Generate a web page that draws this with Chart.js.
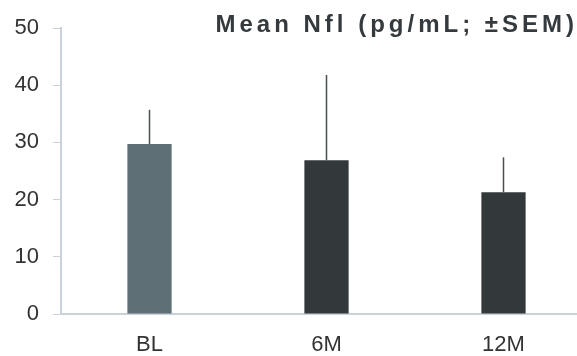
<!DOCTYPE html>
<html>
<head>
<meta charset="utf-8">
<script src="https://cdn.jsdelivr.net/npm/chart.js@4.4.1/dist/chart.umd.min.js"></script>
<style>
  html, body { margin: 0; padding: 0; background: #fff; overflow: hidden; }
  #wrap { width: 595px; height: 356px; position: relative; }
</style>
</head>
<body>
<div id="wrap"><canvas id="c" width="595" height="356"></canvas></div>
<script>
const categories = ['BL', '6M', '12M'];
const means = [29.7, 26.9, 21.3];
const sems = [6.0, 14.9, 6.1];
const yTicks = [0, 10, 20, 30, 40, 50];
const barColors = ['#5f6f76', '#33393b', '#33393b'];
const titleText = 'Mean Nfl (pg/mL; \u00b1SEM)';

const errorBars = {
  id: 'errorBars',
  afterDatasetsDraw(chart) {
    const ctx = chart.ctx;
    const meta = chart.getDatasetMeta(0);
    const y = chart.scales.y;
    ctx.save();
    ctx.strokeStyle = '#4a4f52';
    ctx.lineWidth = 1.5;
    meta.data.forEach((el, i) => {
      const top = y.getPixelForValue(means[i] + sems[i]);
      ctx.beginPath();
      ctx.moveTo(el.x, el.y);
      ctx.lineTo(el.x, top);
      ctx.stroke();
    });
    ctx.restore();
  }
};

const titlePlugin = {
  id: 'titlePlugin',
  afterDraw(chart) {
    const ctx = chart.ctx;
    ctx.save();
    ctx.font = 'bold 24px "Liberation Sans", Arial, sans-serif';
    ctx.fillStyle = '#343a3d';
    ctx.textAlign = 'right';
    ctx.textBaseline = 'alphabetic';
    if ('letterSpacing' in ctx) ctx.letterSpacing = '4px';
    ctx.fillText(titleText, 578, 32);
    ctx.restore();
  }
};

new Chart(document.getElementById('c'), {
  type: 'bar',
  data: {
    labels: categories,
    datasets: [{
      data: means,
      backgroundColor: barColors,
      borderWidth: 0,
      barPercentage: 0.25,
      categoryPercentage: 1
    }]
  },
  options: {
    responsive: false,
    animation: false,
    devicePixelRatio: 1,
    layout: { padding: { top: 28, right: 3, bottom: 0, left: 0 } },
    plugins: { legend: { display: false }, tooltip: { enabled: false }, title: { display: false } },
    scales: {
      x: {
        grid: { display: false, drawTicks: false },
        border: { display: true, color: '#c9d1da', width: 2 },
        ticks: { color: '#333', font: { size: 22, family: '"Liberation Sans", Arial, sans-serif' }, padding: 18 },
        afterFit(s) { s.height = 42; }
      },
      y: {
        min: 0, max: 50,
        afterBuildTicks(s) { s.ticks = yTicks.map(v => ({ value: v })); },
        grid: { drawOnChartArea: false, drawTicks: true, tickLength: 8, color: '#c9d1da', lineWidth: 1 },
        border: { display: true, color: '#c9d1da', width: 2 },
        ticks: { color: '#333', font: { size: 22, family: '"Liberation Sans", Arial, sans-serif' }, padding: 14 },
        afterFit(s) { s.width = 61; }
      }
    }
  },
  plugins: [errorBars, titlePlugin]
});
</script>
</body>
</html>
